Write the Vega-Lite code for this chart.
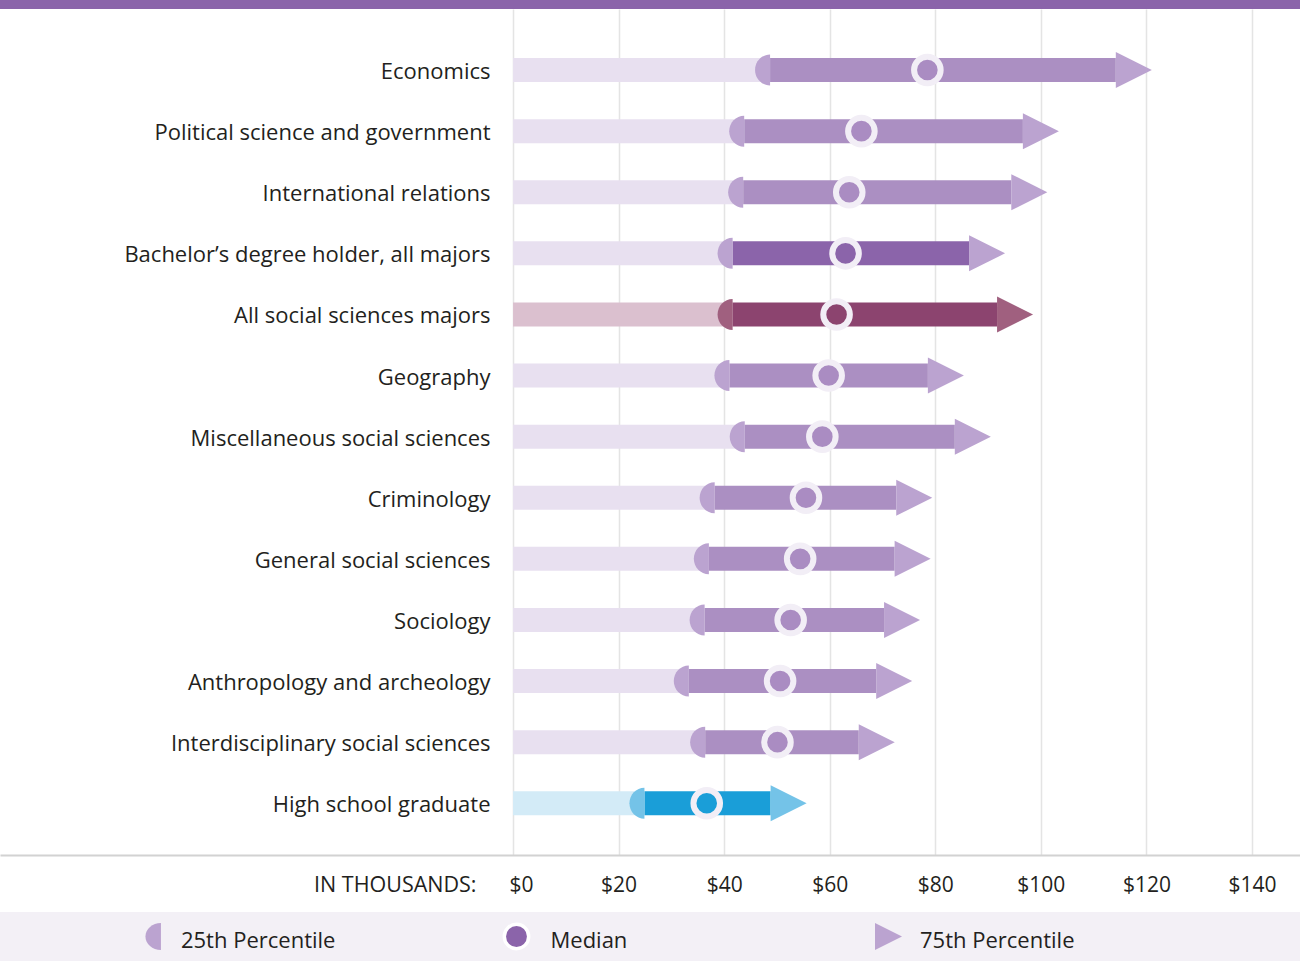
{
  "$schema": "https://vega.github.io/schema/vega-lite/v6.json",
  "padding": 0,
  "background": "white",
  "config": {
    "view": {"stroke": null},
    "font": "Open Sans",
    "axisX": {
      "grid": true, "gridColor": "#E4E4E4", "gridWidth": 1.5,
      "ticks": false, "tickSize": 0,
      "domain": true, "domainColor": "#D2D2D2", "domainWidth": 2,
      "labelFont": "Open Sans", "labelFontSize": 21, "labelColor": "#231F20",
      "labelBaseline": "middle", "labelPadding": 30,
      "titleFont": "Open Sans", "titleFontSize": 21.5, "titleFontWeight": "normal",
      "titleColor": "#231F20", "titleX": 476, "titleY": 30,
      "titleAlign": "right", "titleBaseline": "middle", "titleAnchor": "start"
    }
  },
  "spacing": 0,
  "vconcat": [
    {
      "width": 1300,
      "height": 9,
      "view": {"fill": "#8B64AA"},
      "data": {"values": [{"k": 1}]},
      "mark": {"type": "rect", "color": "#8B64AA"},
      "encoding": {}
    },
    {
      "spacing": 57,
      "bounds": "flush",
      "vconcat": [
        {
          "width": 1300,
          "height": 846,
          "data": {"values": [
            {"category": "Economics", "group": "major", "p25": 48.7, "median": 78.5, "p75": 114.2},
            {"category": "Political science and government", "group": "major", "p25": 43.8, "median": 66.0, "p75": 96.6},
            {"category": "International relations", "group": "major", "p25": 43.6, "median": 63.7, "p75": 94.4},
            {"category": "Bachelor’s degree holder, all majors", "group": "all", "p25": 41.6, "median": 63.0, "p75": 86.4},
            {"category": "All social sciences majors", "group": "social", "p25": 41.6, "median": 61.3, "p75": 91.7},
            {"category": "Geography", "group": "major", "p25": 41.0, "median": 59.8, "p75": 78.6},
            {"category": "Miscellaneous social sciences", "group": "major", "p25": 43.9, "median": 58.6, "p75": 83.7},
            {"category": "Criminology", "group": "major", "p25": 38.2, "median": 55.5, "p75": 72.6},
            {"category": "General social sciences", "group": "major", "p25": 37.1, "median": 54.4, "p75": 72.3},
            {"category": "Sociology", "group": "major", "p25": 36.3, "median": 52.6, "p75": 70.3},
            {"category": "Anthropology and archeology", "group": "major", "p25": 33.3, "median": 50.6, "p75": 68.8},
            {"category": "Interdisciplinary social sciences", "group": "major", "p25": 36.4, "median": 50.1, "p75": 65.5},
            {"category": "High school graduate", "group": "hs", "p25": 24.9, "median": 36.7, "p75": 48.8}
          ]},
          "encoding": {
            "y": {
              "field": "category", "type": "nominal", "sort": null,
              "scale": {"paddingInner": 0, "paddingOuter": 0.423, "align": 0.59},
              "axis": {
                "title": null, "domain": false, "ticks": false, "tickSize": 0,
                "labelPadding": -490, "labelAlign": "right", "labelBaseline": "middle",
                "labelOffset": 2,
                "labelFont": "Open Sans", "labelFontSize": 22, "labelColor": "#231F20",
                "labelLimit": 0, "grid": false
              }
            }
          },
          "layer": [
            {
              "mark": {"type": "bar", "height": 24},
              "encoding": {
                "x": {
                  "field": "p25", "type": "quantitative",
                  "scale": {"domain": [-97.2, 149.1], "nice": false, "zero": false},
                  "axis": {"values": [0, 20, 40, 60, 80, 100, 120, 140], "labelExpr": "'$' + datum.value", "labelOffset": {"condition": {"test": "datum.value === 0", "value": 8}, "value": 0}, "title": "IN THOUSANDS:"}
                },
                "x2": {"datum": 0},
                "color": {
                  "field": "group", "type": "nominal", "legend": null,
                  "scale": {"domain": ["major", "all", "social", "hs"], "range": ["#E8E0F0", "#E8E0F0", "#DBC0CF", "#D3EBF7"]}
                }
              }
            },
            {
              "mark": {"type": "bar", "height": 24},
              "encoding": {
                "x": {"field": "p25", "type": "quantitative", "axis": {"values": [0, 20, 40, 60, 80, 100, 120, 140], "labelExpr": "'$' + datum.value", "labelOffset": {"condition": {"test": "datum.value === 0", "value": 8}, "value": 0}, "title": "IN THOUSANDS:"}},
                "x2": {"field": "p75"},
                "color": {
                  "field": "group", "type": "nominal", "legend": null,
                  "scale": {"domain": ["major", "all", "social", "hs"], "range": ["#AB8FC2", "#8B64AA", "#8C446F", "#1A9ED8"]}
                }
              }
            },
            {
              "mark": {"type": "point", "shape": "M0,-1A0.97,1 0 0 0 0,1Z", "size": 961, "filled": true, "opacity": 1},
              "encoding": {
                "x": {"field": "p25", "type": "quantitative", "axis": {"values": [0, 20, 40, 60, 80, 100, 120, 140], "labelExpr": "'$' + datum.value", "labelOffset": {"condition": {"test": "datum.value === 0", "value": 8}, "value": 0}, "title": "IN THOUSANDS:"}},
                "color": {
                  "field": "group", "type": "nominal", "legend": null,
                  "scale": {"domain": ["major", "all", "social", "hs"], "range": ["#BBA3D0", "#BBA3D0", "#A0607F", "#74C3E8"]}
                }
              }
            },
            {
              "mark": {"type": "point", "shape": "M0,-1L2,0L0,1Z", "size": 1296, "filled": true, "opacity": 1},
              "encoding": {
                "x": {"field": "p75", "type": "quantitative", "axis": {"values": [0, 20, 40, 60, 80, 100, 120, 140], "labelExpr": "'$' + datum.value", "labelOffset": {"condition": {"test": "datum.value === 0", "value": 8}, "value": 0}, "title": "IN THOUSANDS:"}},
                "color": {
                  "field": "group", "type": "nominal", "legend": null,
                  "scale": {"domain": ["major", "all", "social", "hs"], "range": ["#BBA3D0", "#BBA3D0", "#A0607F", "#74C3E8"]}
                }
              }
            },
            {
              "mark": {"type": "point", "shape": "circle", "size": 707, "filled": true, "opacity": 1, "stroke": "#F2EEF6", "strokeWidth": 6},
              "encoding": {
                "x": {"field": "median", "type": "quantitative", "axis": {"values": [0, 20, 40, 60, 80, 100, 120, 140], "labelExpr": "'$' + datum.value", "labelOffset": {"condition": {"test": "datum.value === 0", "value": 8}, "value": 0}, "title": "IN THOUSANDS:"}},
                "color": {
                  "field": "group", "type": "nominal", "legend": null,
                  "scale": {"domain": ["major", "all", "social", "hs"], "range": ["#AA8CC2", "#8B64AA", "#8C446F", "#1A9ED8"]}
                }
              }
            }
          ],
          "resolve": {"scale": {"color": "independent"}}
        },
        {
          "width": 1300,
          "height": 49,
          "view": {"fill": "#F3F0F6"},
          "data": {"values": [{"item": "25th Percentile"}, {"item": "Median"}, {"item": "75th Percentile"}]},
          "encoding": {
            "x": {"field": "item", "type": "nominal", "sort": null, "scale": {"type": "point", "padding": 0.759, "align": 0.3226}, "axis": null}
          },
          "layer": [
            {
              "transform": [{"filter": "datum.item === '25th Percentile'"}],
              "mark": {"type": "point", "shape": "M0,-1A1.15,1 0 0 0 0,1Z", "size": 729, "filled": true, "opacity": 1, "color": "#BBA3D0", "xOffset": -20}
            },
            {
              "transform": [{"filter": "datum.item === 'Median'"}],
              "mark": {"type": "point", "shape": "circle", "size": 594, "filled": true, "opacity": 1, "fill": "#8B64AA", "stroke": "white", "strokeWidth": 3.5, "xOffset": -34}
            },
            {
              "transform": [{"filter": "datum.item === '75th Percentile'"}],
              "mark": {"type": "point", "shape": "M0,-1L2,0L0,1Z", "size": 729, "filled": true, "opacity": 1, "color": "#BBA3D0", "xOffset": -45}
            },
            {
              "mark": {"type": "text", "align": "left", "baseline": "middle", "font": "Open Sans", "fontSize": 22, "color": "#231F20", "dy": 4},
              "encoding": {"text": {"field": "item"}}
            }
          ]
        }
      ]
    }
  ]
}
